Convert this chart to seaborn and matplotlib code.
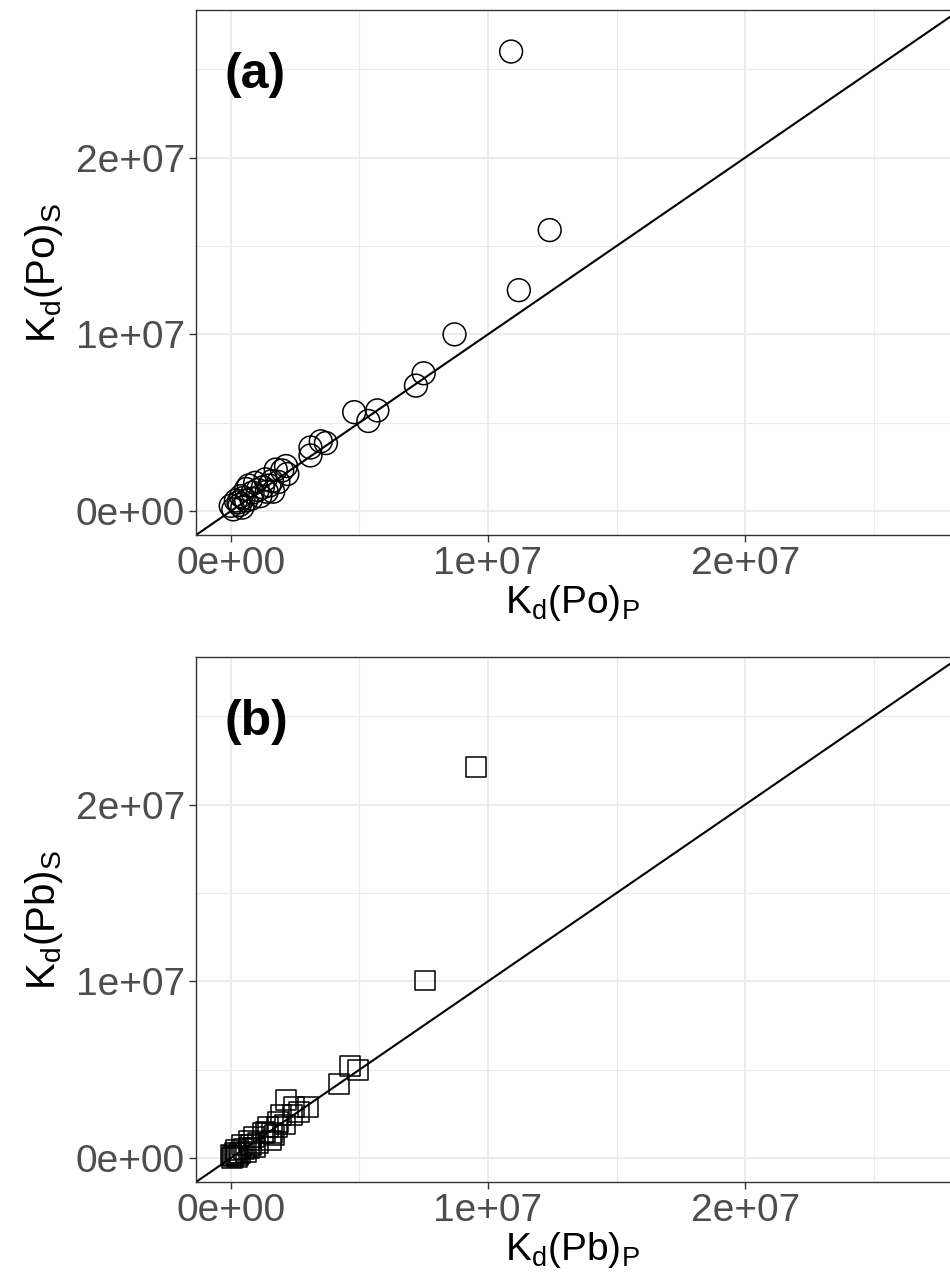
import matplotlib
matplotlib.use("Agg")
import matplotlib.pyplot as plt
import numpy as np
import pandas as pd
import seaborn as sns

# Kd values (units: 1e6)
po_p = [10.9, 12.4, 11.2, 8.7, 7.5, 7.2, 4.8, 5.7, 5.35, 3.5, 3.7, 3.1, 3.1,
        2.15, 2.0, 2.2, 1.75, 1.65, 1.6, 1.35, 0.95, 0.7, 0.6, 0.4, 0.2, 0.0,
        0.3, 0.85, 1.25, 1.15, 0.6, 1.5, 1.85, 0.1, 0.5, 0.8, 1.05, 0.35, 1.4, 0.45]
po_s = [26.0, 15.9, 12.5, 10.0, 7.8, 7.1, 5.6, 5.7, 5.1, 3.95, 3.85, 3.6, 3.15,
        2.55, 2.3, 2.1, 2.35, 1.1, 1.7, 1.8, 1.6, 1.45, 1.25, 0.85, 0.6, 0.3,
        0.5, 1.05, 1.35, 0.85, 0.6, 1.45, 1.65, 0.1, 0.75, 0.7, 1.2, 0.35, 1.1, 0.2]

pb_p = [9.55, 7.55, 4.65, 4.95, 4.2, 2.15, 3.0, 2.45, 2.65, 2.4, 1.95, 1.85, 1.8,
        1.45, 1.55, 1.35, 0.9, 0.7, 0.45, 0.2, 0.0, 0.05, 0.3, 0.6, 0.7, 1.05,
        1.25, 1.6, 0.1, 0.35, 0.5, 0.8, 0.15, 0.25, 0.95, 2.1, 1.7]
pb_s = [22.15, 10.05, 5.2, 5.0, 4.2, 3.3, 2.9, 2.9, 2.6, 2.45, 2.45, 2.05, 1.75,
        1.75, 1.0, 1.5, 1.2, 1.0, 0.75, 0.45, 0.2, 0.0, 0.15, 0.35, 0.55, 0.85,
        1.4, 1.4, 0.1, 0.3, 0.5, 0.75, 0.3, 0.05, 0.6, 1.9, 1.3]

major_ticks = [0, 1e7, 2e7]
minor_ticks = [0.5e7, 1.5e7, 2.5e7]
tick_labels = ["0e+00", "1e+07", "2e+07"]
lims = (-1.35e6, 2.835e7)

sns.set_theme(style="white")
plt.rcParams["font.family"] = ["Liberation Sans", "DejaVu Sans"]
plt.rcParams["mathtext.fontset"] = "custom"
plt.rcParams["mathtext.rm"] = "Liberation Sans"
plt.rcParams["mathtext.default"] = "regular"

fig = plt.figure(figsize=(9.5, 12.74), dpi=100)
ax_a = fig.add_axes([196 / 950, 1 - 535 / 1274, 764 / 950, 525 / 1274])
ax_b = fig.add_axes([196 / 950, 1 - 1182 / 1274, 764 / 950, 525 / 1274])

df_po = pd.DataFrame({"P": np.array(po_p) * 1e6, "S": np.array(po_s) * 1e6})
df_pb = pd.DataFrame({"P": np.array(pb_p) * 1e6, "S": np.array(pb_s) * 1e6})

panels = [
    (ax_a, df_po, "o", 270, "(a)", "K$_d$(Po)$_P$", "K$_d$(Po)$_S$"),
    (ax_b, df_pb, "s", 205, "(b)", "K$_d$(Pb)$_P$", "K$_d$(Pb)$_S$"),
]

for ax, df, mk, sz, tag, xl, yl in panels:
    ax.set_xlim(lims)
    ax.set_ylim(lims)
    ax.set_xticks(major_ticks)
    ax.set_yticks(major_ticks)
    ax.set_xticks(minor_ticks, minor=True)
    ax.set_yticks(minor_ticks, minor=True)
    ax.set_xticklabels(tick_labels)
    ax.set_yticklabels(tick_labels)
    ax.grid(True, which="major", color="#EBEBEB", lw=1.3)
    ax.grid(True, which="minor", color="#EBEBEB", lw=0.8)
    ax.set_axisbelow(True)
    # 1:1 line
    ax.plot(lims, lims, color="black", lw=1.5, zorder=2)
    sns.scatterplot(data=df, x="P", y="S", ax=ax, marker=mk, s=sz,
                    facecolor="none", edgecolor="black", linewidth=1.1,
                    zorder=3, legend=False)
    for sp in ax.spines.values():
        sp.set_color("#333333")
        sp.set_linewidth(1.0)
    ax.tick_params(which="major", length=5, width=1.0, color="#333333",
                   labelsize=28, labelcolor="#4D4D4D", pad=3,
                   bottom=True, left=True)
    ax.tick_params(which="minor", length=0)
    ax.set_xlabel(xl, fontsize=28, color="black")
    ax.set_ylabel(yl, fontsize=29, color="black", labelpad=8)
    ax.xaxis.set_label_coords(377 / 764, -0.092)
    ax.text(0.037, 0.876, tag, transform=ax.transAxes, fontsize=36,
            fontweight="bold", color="black", va="center", ha="left")

fig.savefig("out.png", dpi=100)
